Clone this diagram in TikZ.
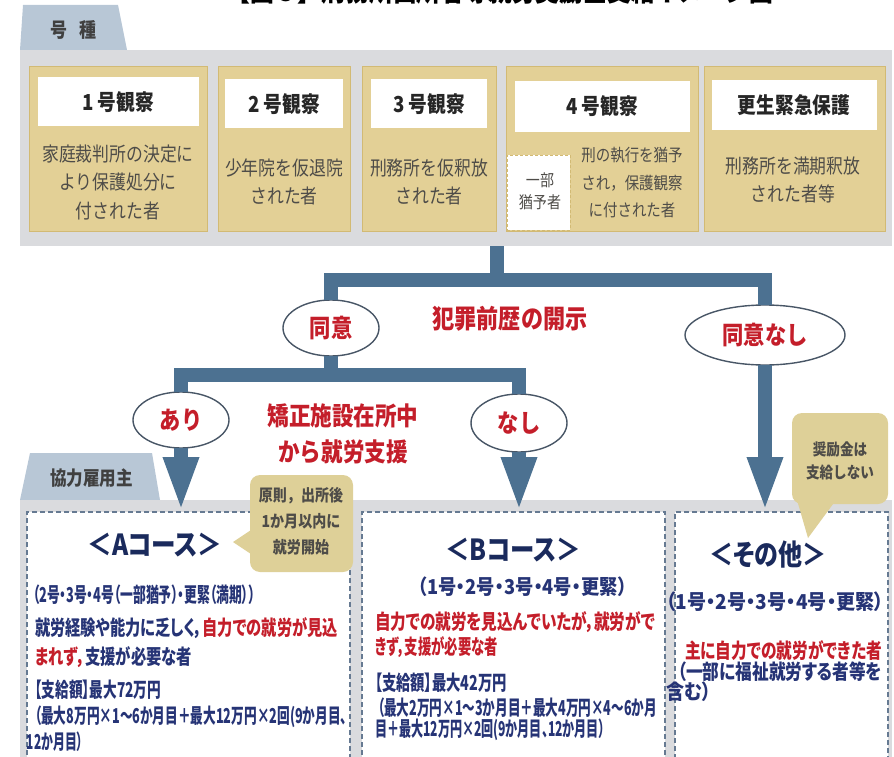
\documentclass[tikz,border=0pt]{standalone}
\usepackage{fontspec}
\setmainfont{Noto Sans CJK JP}[FakeStretch=0.85]
\newfontfamily\pfont{Noto Sans CJK JP}[FakeStretch=0.85,CharacterWidth=AlternateProportional]
\usetikzlibrary{arrows.meta,shapes.geometric}
\definecolor{panelc}{RGB}{218,219,222}
\definecolor{tabc}{RGB}{184,199,214}
\definecolor{tanc}{RGB}{227,208,150}
\definecolor{tanline}{RGB}{210,186,116}
\definecolor{callc}{RGB}{222,208,152}
\definecolor{flowc}{RGB}{76,113,145}
\definecolor{ovalc}{RGB}{72,86,102}
\definecolor{redc}{RGB}{196,30,42}
\definecolor{navyc}{RGB}{38,52,118}
\definecolor{navyd}{RGB}{26,42,92}
\definecolor{greyt}{RGB}{78,76,72}
\definecolor{dashc}{RGB}{102,122,146}
\newcommand\fitw[2]{\resizebox{#1pt}{\height}{#2}}
\begin{document}
\begin{tikzpicture}[x=1pt,y=-1pt,
  every node/.style={inner sep=0pt,outer sep=0pt},
  tanbox/.style={fill=tanc,draw=tanline,line width=1pt},
  ttl/.style={font=\bfseries\fontsize{22}{22}\selectfont,text=black!85},
  desc/.style={font=\fontsize{19.8}{28.5}\selectfont,text=greyt,align=center},
  descs/.style={font=\fontsize{17}{27.5}\selectfont,text=greyt,align=center},
  oval/.style={ellipse,draw=ovalc,line width=1.4pt,fill=white,text=redc,font=\bfseries\fontsize{25}{25}\selectfont},
  redlab/.style={font=\bfseries\fontsize{26}{36}\selectfont,text=redc,align=center},
  flow/.style={draw=flowc,line width=14pt,line join=miter},
  tip/.style={-{Triangle[width=32pt,length=55pt]}},
  cbox/.style={draw=dashc,line width=1.4pt,dash pattern=on 5pt off 3pt,fill=white,anchor=north west},
  ctitle/.style={font=\pfont\bfseries\fontsize{29}{29}\selectfont,text=navyd},
  ctext/.style={font=\pfont\bfseries\fontsize{20.5}{20.5}\selectfont,text=navyc,anchor=west},
  calltext/.style={font=\bfseries\fontsize{16.5}{26}\selectfont,text=greyt,align=center},
  tabtext/.style={font=\bfseries\fontsize{20}{20}\selectfont,text=black!75}]
\useasboundingbox (0,0) rectangle (894,757);
% clipped title
\begin{scope}
\clip (0,0) rectangle (894,757);
\node[font=\bfseries\fontsize{28}{28}\selectfont,anchor=base] (zu) at (500,1.5) {【図３】刑務所出所者等就労奨励金支給イメージ図};
\end{scope}
% top tab and panel
\fill[tabc] (20,50) -- (23,5) -- (118,5) -- (127,50) -- cycle;
\node[tabtext] (gosyu) at (73.5,30) {号\hspace{0.6em}種};
\fill[panelc] (20,50) rectangle (892,246);
% five category boxes
\filldraw[tanbox] (29,67) rectangle (207,231);
\filldraw[tanbox] (218,67) rectangle (350,231);
\filldraw[tanbox] (362,67) rectangle (496,231);
\filldraw[tanbox] (506,67) rectangle (698,231);
\filldraw[tanbox] (704,67) rectangle (885,231);
\fill[white] (38,77) rectangle (199,126);
\fill[white] (225,79) rectangle (343,128);
\fill[white] (371,79) rectangle (487,128);
\fill[white] (515,81) rectangle (690,132);
\fill[white] (712,80) rectangle (877,130);
\node[ttl] (t1) at (118,102) {1 号観察};
\node[ttl] (t2) at (284,104) {2 号観察};
\node[ttl] (t3) at (429,104) {3 号観察};
\node[ttl] (t4) at (602,106) {4 号観察};
\node[ttl] (t5) at (794,105) {更生緊急保護};
\node[desc] (d1) at (118,182) {家庭裁判所の決定に\\より保護処分に\\付された者};
\node[desc] (d2) at (284,182) {少年院を仮退院\\された者};
\node[desc] (d3) at (429,182) {刑務所を仮釈放\\された者};
\node[fill=white,draw=tanline,densely dashed,line width=0.8pt,minimum width=63,minimum height=75] (ichibu) at (538.5,192.5) {};
\node[descs,font=\fontsize{16.5}{22}\selectfont] (ichibut) at (540,191) {一部\\猶予者};
\node[descs] (d4) at (632,183) {刑の執行を猶予\\され，保護観察\\に付された者};
\node[desc] (d5) at (793,180) {刑務所を満期釈放\\された者等};
% bottom panel
\fill[tabc] (20,500) -- (30,453) -- (152,453) -- (160,500) -- cycle;
\node[tabtext,font=\bfseries\fontsize{19.5}{19.5}\selectfont] (kyoryoku) at (91.5,478) {協力雇用主};
\fill[panelc] (20,500) rectangle (892,760);
\node[cbox,minimum width=323,minimum height=260] (ca) at (27,512) {};
\node[cbox,minimum width=303,minimum height=260] (cb) at (362,512) {};
\node[cbox,minimum width=213,minimum height=260] (cc) at (675,512) {};
% ellipses and labels
\node[oval,minimum width=96,minimum height=56] (dooi) at (331,328) {同意};
\node[oval,minimum width=160,minimum height=60] (dooinashi) at (765,335) {同意なし};
\node[oval,minimum width=96,minimum height=56] (ari) at (181,420) {あり};
\node[oval,minimum width=96,minimum height=58] (nashi) at (519,423) {なし};
\node[redlab] (kaiji) at (510,319) {犯罪前歴の開示};
\node[redlab,font=\bfseries\fontsize{25.4}{36}\selectfont] (shien) at (343,434) {矯正施設在所中\\から就労支援};
% connectors
\coordinate (j0) at (497,246);
\coordinate (j1) at (497,280);
\coordinate (j2) at (331,375);
\draw[flow] (j0) -- (j1);
\draw[flow] (dooi.north) |- (j1) -| (dooinashi.north);
\draw[flow] (dooi.south) -- (j2);
\draw[flow] (ari.north) |- (j2) -| (nashi.north);
\draw[flow,tip] (ari.south) -- (ari.south |- ca.north);
\draw[flow,tip] (nashi.south) -- (nashi.south |- cb.north);
\draw[flow,tip] (dooinashi.south) -- (dooinashi.south |- cc.north);
% callouts
\fill[callc,rounded corners=10pt] (250,475) rectangle (353,572);
\fill[callc] (251,530) -- (233,542) -- (251,554) -- cycle;
\node[calltext] (callA) at (301,521) {原則，出所後\\1か月以内に\\就労開始};
\fill[callc,rounded corners=10pt] (792,413) rectangle (888,504);
\fill[callc] (797,500) -- (808,538) -- (836,500) -- cycle;
\node[calltext,font=\bfseries\fontsize{16}{23}\selectfont] (callC) at (840,461) {奨励金は\\支給しない};
% A course
\node[ctitle] (ta) at (155,545) {\fitw{135}{＜Aコース＞}};
\node[ctext] (a1) at (33,595) {\fitw{222}{（2号・3号・4号（一部猶予）・更緊（満期））}};
\node[ctext] (a2) at (35,628) {\fitw{303}{就労経験や能力に乏しく，{\color{redc}自力での就労が見込}}};
\node[ctext] (a3) at (35,657) {\fitw{157}{{\color{redc}まれず，}支援が必要な者}};
\node[ctext] (a4) at (35,690) {\fitw{126}{【支給額】最大72万円}};
\node[ctext] (a5) at (35,717) {\fitw{312}{（最大8万円×1～6か月目＋最大12万円×2回(9か月目、}};
\node[ctext] (a6) at (27,742) {\fitw{56}{12か月目）}};
% B course
\node[ctitle] (tb) at (513,550) {\fitw{135}{＜Bコース＞}};
\node[ctext,anchor=center] (b1) at (522.5,587) {\fitw{209}{（1号・2号・3号・4号・更緊）}};
\node[ctext,text=redc] (b2) at (375,622) {\fitw{280}{自力での就労を見込んでいたが，就労がで}};
\node[ctext,text=redc] (b3) at (375,647) {\fitw{123}{きず，支援が必要な者}};
\node[ctext] (b4) at (375,683) {\fitw{132}{【支給額】最大42万円}};
\node[ctext] (b5) at (378,708) {\fitw{279}{（最大2万円×1～3か月目＋最大4万円×4～6か月}};
\node[ctext] (b6) at (375,730) {\fitw{230}{目＋最大12万円×2回(9か月目、12か月目）}};
% other
\node[ctitle] (tc) at (768,555) {\fitw{117}{＜その他＞}};
\node[ctext] (c1) at (666,602) {\fitw{218}{（1号・2号・3号・4号・更緊）}};
\node[ctext,text=redc] (c2) at (685,651) {\fitw{197}{主に自力での就労ができた者}};
\node[ctext] (c3) at (678,672) {\fitw{204}{（一部に福祉就労する者等を}};
\node[ctext] (c4) at (666,692) {\fitw{45}{含む）}};
\end{tikzpicture}
\end{document}
